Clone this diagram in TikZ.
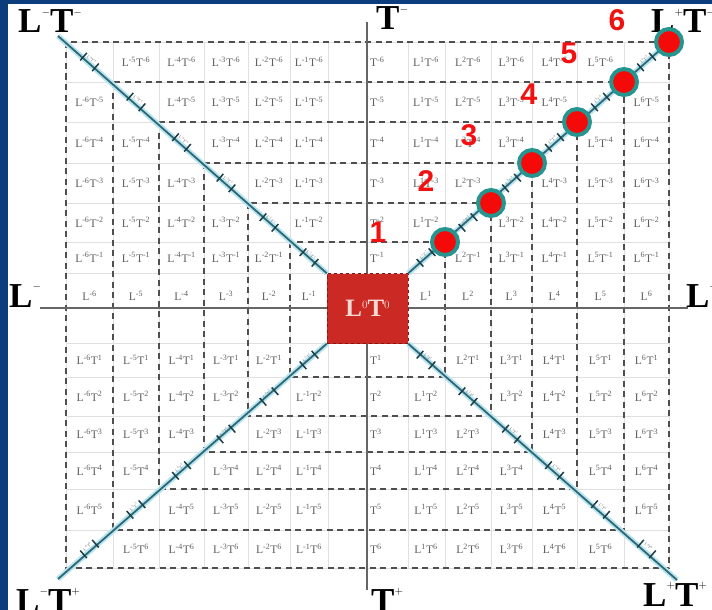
\documentclass[tikz,border=0pt]{standalone}
\usepackage{fontspec}
\setmainfont{Liberation Serif}
\newfontfamily\numfont{Liberation Sans}

\definecolor{frameblue}{HTML}{0D3C7D}
\definecolor{boxred}{HTML}{CB2A24}
\definecolor{boxtext}{HTML}{F6DAD4}
\definecolor{diagteal}{HTML}{2F6872}
\definecolor{glowblue}{HTML}{B8E4F2}
\definecolor{dotteal}{HTML}{27958F}
\definecolor{dotred}{HTML}{F50A0A}
\definecolor{ringgray}{HTML}{4F4F4F}
\definecolor{labgray}{HTML}{5E5E5E}
\definecolor{numred}{HTML}{F21010}

% small raised sign after a big letter
\newcommand{\hi}[2][0.5em]{\raisebox{#1}{\fontsize{11}{11}\selectfont$#2$}}
% tick pair and tiny label on a diagonal cell
\newcommand{\diagcell}[4]{%
  \begin{scope}[shift={(#1,#2)}, rotate=#3]
    \draw[tick] (-8,-5) -- (-8,5);
    \draw[tick] (8,-5) -- (8,5);
    \node[tiny, rotate=#3] at (0,-3.5) {#4};
  \end{scope}}

\begin{document}
\begin{tikzpicture}[x=1pt, y=-1pt,
  faint/.style={draw=black!12, line width=0.6pt},
  ring/.style={draw=ringgray, line width=1.4pt, dash pattern=on 6pt off 4.5pt},
  axis/.style={draw=black!60, line width=1.4pt},
  diag/.style={draw=diagteal, line width=1.8pt, preaction={draw=glowblue, line width=5.5pt}},
  lab/.style={text=labgray, font=\fontsize{11.5}{11.5}\selectfont, inner sep=0pt},
  tlab/.style={lab, anchor=west},
  tick/.style={draw=diagteal!60!black, line width=1.5pt},
  tiny/.style={text=labgray, font=\fontsize{4}{4}\selectfont, inner sep=0pt},
  origin/.style={draw=boxred!60!black, dashed, fill=boxred, minimum width=81pt,
                 minimum height=70pt, text=boxtext, font=\fontsize{25}{25}\selectfont\bfseries},
  dot/.style={circle, draw=dotteal, line width=4pt, fill=dotred, minimum size=26pt, inner sep=0pt},
  num/.style={text=numred, inner sep=0pt, font=\numfont\bfseries\fontsize{30}{30}\selectfont},
  pole/.style={anchor=base west, inner sep=0pt, font=\fontsize{35}{35}\selectfont\bfseries}]
  \useasboundingbox (0,0) rectangle (712,610);
  \fill[frameblue] (0,0) rectangle (712,610);
  \fill[white] (8,4) rectangle (712,610);
  \clip (0,0) rectangle (712,610);

  % faint cell grid
  \foreach \x in {66,113,159,204,248,290,328,408,445,491,532,577,624,669}
    \draw[faint] (\x,42) -- (\x,568);
  \foreach \y in {42,82,122,163,203,242,273,343,377,416,452,489,530,568}
    \draw[faint] (66,\y) -- (669,\y);

  % nested dashed frames
  \foreach \k/\xl/\xr/\yt/\yb in {6/66/669/42/568, 5/113/624/82/530, 4/159/577/122/489,
                                  3/204/532/163/452, 2/248/491/203/416, 1/290/445/242/377}{
    \draw[ring] (\xl,\yt) rectangle (\xr,\yb);
    \coordinate (ne\k) at (\xr,\yt);
  }

  % axes
  \coordinate (west) at (40,308);
  \coordinate (east) at (688,308);
  \coordinate (north) at (367,22);
  \coordinate (south) at (367,590);
  \draw[axis] (west) -- (east);
  \draw[axis] (north) -- (south);

  % origin and diagonals
  \node[origin] (o) at (367.5,308.5) {L\hi[0.33em]{0}T\hi[0.33em]{0}};
  \coordinate (ul) at (58,36);
  \coordinate (ur) at (678,34);
  \coordinate (ll) at (58,579);
  \coordinate (lr) at (677,580);
  \draw[diag] (o.north west) -- (ul);
  \draw[diag] (o.north east) -- (ur);
  \draw[diag] (o.south west) -- (ll);
  \draw[diag] (o.south east) -- (lr);

  % cell labels
  \foreach \l/\x in {-6/89.5,-5/136,-4/181.5,-3/226,-2/269,-1/309,0/370,
                     1/426,2/468,3/511.5,4/554.5,5/600.5,6/646.5}
    \foreach \t/\y in {-6/62,-5/102,-4/142.5,-3/183,-2/222.5,-1/257.5,0/296,
                       1/360,2/396.5,3/434,4/470.5,5/509.5,6/549}{
      \ifnum\l=\t\relax
        \ifnum\l=0\relax\else
          \diagcell{\x}{\y}{-41.3}{L\textsuperscript{\l}T\textsuperscript{\t}}\fi
      \else\ifnum\l=-\t\relax
        \diagcell{\x}{\y}{41.3}{L\textsuperscript{\l}T\textsuperscript{\t}}
      \else\ifnum\l=0\relax
        \node[tlab] (c\l\t) at (\x,\y) {T\textsuperscript{\t}};
      \else\ifnum\t=0\relax
        \node[lab] (c\l\t) at (\x,\y) {L\textsuperscript{\l}};
      \else
        \node[lab] (c\l\t) at (\x,\y) {L\textsuperscript{\l}T\textsuperscript{\t}};
      \fi\fi\fi\fi
    }

  % poles
  \node[pole] (pNW) at (18,33) {L\hi{-}T\hi{-}};
  \node[pole] (pN) at (376,30) {T\hi{-}};
  \node[pole] (pNE) at (651,33) {L\hi{+}T\hi{-}};
  \node[pole] (pW) at (9,307) {L\hi{-}};
  \node[pole] (pE) at (686,307) {L\hi{+}};
  \node[pole] (pSW) at (16,612) {L\hi{-}T\hi{+}};
  \node[pole] (pS) at (371,612) {T\hi{+}};
  \node[pole] (pSE) at (643,606) {L\hi{+}T\hi{+}};

  % marked steps
  \foreach \k in {1,...,6}
    \node[dot] (d\k) at (ne\k) {};
  \foreach \k/\x/\y in {1/378/232, 2/426/181, 3/469/135, 4/529/94, 5/569/53, 6/617/20}
    \node[num] (n\k) at (\x,\y) {\k};
\end{tikzpicture}
\end{document}
